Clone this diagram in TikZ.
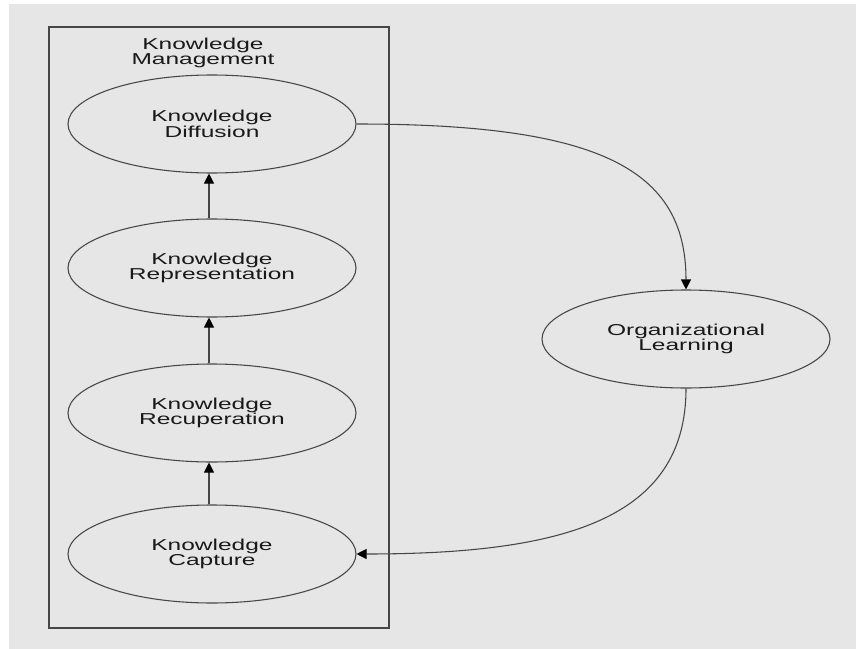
\documentclass[tikz,border=0pt]{standalone}
\usepackage{graphicx}
\usepackage{fontspec}
\setmainfont{Liberation Sans}
\usetikzlibrary{shapes.geometric,arrows.meta}
\definecolor{paper}{RGB}{230,230,230}
\definecolor{ink}{RGB}{70,70,70}
\definecolor{txt}{RGB}{25,25,25}
% horizontally widened text line
\newcommand\sx[1]{\scalebox{1.55}[1]{#1}}
\begin{document}
\begin{tikzpicture}[x=0.75pt,y=-0.75pt,
  stage/.style={ellipse,draw=ink,line width=0.8pt,minimum width=216pt,minimum height=73.5pt,
    inner sep=0pt,align=center,text=txt,font=\fontsize{11.85}{11.5}\selectfont},
  arr/.style={draw=ink,line width=0.8pt,-{Triangle[length=7.5pt,width=7.5pt,fill=black,color=black]}},
  frame/.style={draw=ink,line width=0.9pt},
  title/.style={align=center,text=txt,inner sep=0pt,font=\fontsize{11.85}{11.5}\selectfont}]
\useasboundingbox (0,0) rectangle (856,649);
\fill[white] (0,0) rectangle (856,649);
\fill[paper] (9,4) rectangle (856,649);

% cluster frame and its title
\draw[frame] (49,27) rectangle (389,628);
\node[title] (kmtitle) at (203,53) {\sx{Knowledge}\\\sx{Management}};

% knowledge management stages
\node[stage] (dif) at (212,124) {\sx{Knowledge}\\\sx{Diffusion}};
\node[stage] (rep) at (212,268) {\sx{Knowledge}\\\sx{Representation}};
\node[stage] (rec) at (212,413) {\sx{Knowledge}\\\sx{Recuperation}};
\node[stage] (cap) at (212,554) {\sx{Knowledge}\\\sx{Capture}};
\node[stage] (org) at (686,339) {\sx{Organizational}\\\sx{Learning}};

% upward flow between stages
\draw[arr] ([xshift=-2.25pt]cap.north) -- ([xshift=-2.25pt]rec.south);
\draw[arr] ([xshift=-2.25pt]rec.north) -- ([xshift=-2.25pt]rep.south);
\draw[arr] ([xshift=-2.25pt]rep.north) -- ([xshift=-2.25pt]dif.south);

% loop through organizational learning
\draw[arr] (dif.east) .. controls +(244,0) and +(0,-120) .. (org.north);
\draw[arr] (org.south) .. controls +(0,132) and +(204,0) .. (cap.east);
\end{tikzpicture}
\end{document}
